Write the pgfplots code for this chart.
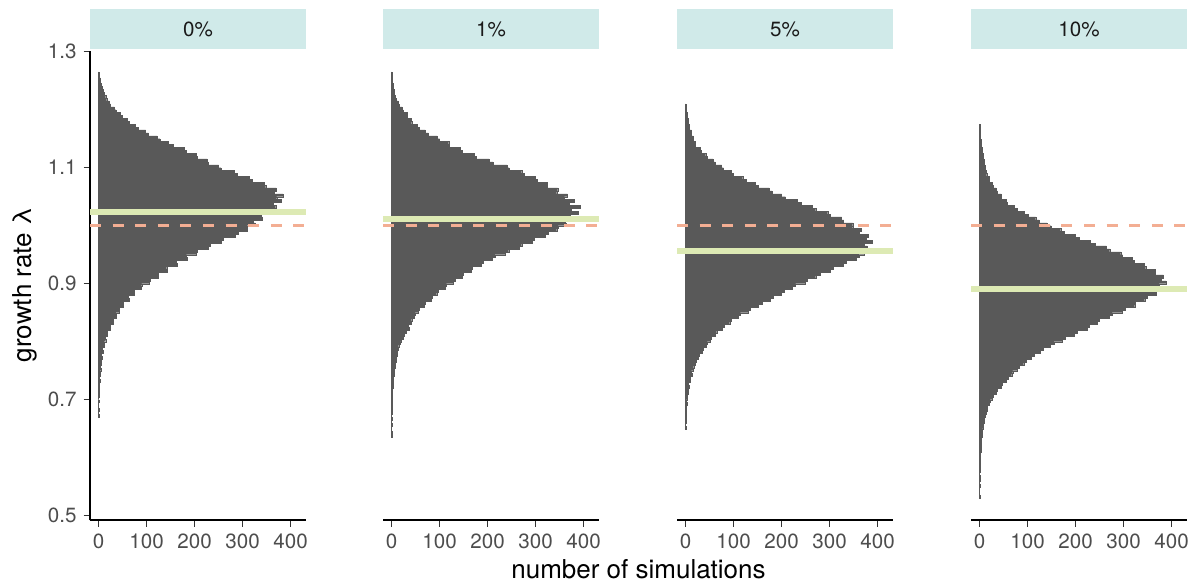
\documentclass[border=0pt]{standalone}
\usepackage{fontspec}
\setmainfont{TeX Gyre Heros}
\usepackage{pgfplots}
\usepackage{pgfplotstable}
\pgfplotsset{compat=1.18}

\definecolor{barcol}{HTML}{595959}
\definecolor{stripcol}{HTML}{D0EAE9}
\definecolor{meancol}{HTML}{DDEAB4}
\definecolor{refcol}{HTML}{F3AE93}
\definecolor{tickcol}{HTML}{4D4D4D}
\definecolor{tickmark}{HTML}{333333}
\definecolor{striptext}{HTML}{1A1A1A}

% panel 0%
\pgfplotstableread{
y c
0.670 1
0.675 0
0.680 1
0.685 0
0.690 0
0.695 1
0.700 0
0.705 1
0.710 1
0.715 1
0.720 2
0.725 1
0.730 3
0.735 2
0.740 4
0.745 3
0.750 5
0.755 4
0.760 6
0.765 5
0.770 7
0.775 6
0.780 9
0.785 8
0.790 12
0.795 11
0.800 15
0.805 14
0.810 19
0.815 18
0.820 25
0.825 24
0.830 31
0.835 30
0.840 37
0.845 36
0.850 44
0.855 43
0.860 52
0.865 51
0.870 63
0.875 61
0.880 75
0.885 74
0.890 89
0.895 90
0.900 106
0.905 107
0.910 124
0.915 125
0.920 143
0.925 142
0.930 163
0.935 161
0.940 184
0.945 183
0.950 203
0.955 205
0.960 228
0.965 232
0.970 255
0.975 260
0.980 284
0.985 290
0.990 310
0.995 309
1.000 326
1.005 322
1.010 341
1.015 338
1.020 356
1.025 352
1.030 369
1.035 364
1.040 380
1.045 371
1.050 384
1.055 366
1.060 370
1.065 348
1.070 345
1.075 320
1.080 314
1.085 289
1.090 282
1.095 255
1.100 250
1.105 229
1.110 226
1.115 206
1.120 203
1.125 183
1.130 178
1.135 155
1.140 146
1.145 128
1.150 122
1.155 104
1.160 98
1.165 82
1.170 77
1.175 64
1.180 60
1.185 49
1.190 46
1.195 36
1.200 33
1.205 25
1.210 22
1.215 17
1.220 15
1.225 11
1.230 10
1.235 7
1.240 6
1.245 4
1.250 4
1.255 2
1.260 1
1.265 0
}\tabA

% panel 1%
\pgfplotstableread{
y c
0.635 1
0.640 1
0.645 0
0.650 0
0.655 1
0.660 0
0.665 1
0.670 0
0.675 1
0.680 1
0.685 1
0.690 1
0.695 1
0.700 1
0.705 2
0.710 2
0.715 2
0.720 3
0.725 3
0.730 4
0.735 4
0.740 5
0.745 5
0.750 6
0.755 8
0.760 7
0.765 10
0.770 9
0.775 12
0.780 11
0.785 14
0.790 15
0.795 19
0.800 20
0.805 25
0.810 26
0.815 30
0.820 36
0.825 35
0.830 41
0.835 42
0.840 47
0.845 49
0.850 56
0.855 58
0.860 68
0.865 71
0.870 82
0.875 84
0.880 94
0.885 97
0.890 111
0.895 114
0.900 129
0.905 132
0.910 147
0.915 150
0.920 166
0.925 168
0.930 186
0.935 190
0.940 209
0.945 215
0.950 237
0.955 244
0.960 265
0.965 271
0.970 293
0.975 298
0.980 320
0.985 326
0.990 344
0.995 347
1.000 363
1.005 362
1.010 376
1.015 372
1.020 388
1.025 375
1.030 392
1.035 370
1.040 381
1.045 360
1.050 366
1.055 344
1.060 346
1.065 325
1.070 324
1.075 303
1.080 300
1.085 277
1.090 271
1.095 245
1.100 240
1.105 211
1.110 203
1.115 177
1.120 172
1.125 148
1.130 143
1.135 121
1.140 119
1.145 100
1.150 95
1.155 77
1.160 70
1.165 57
1.170 53
1.175 42
1.180 41
1.185 33
1.190 32
1.195 24
1.200 22
1.205 16
1.210 14
1.215 9
1.220 8
1.225 5
1.230 5
1.235 3
1.240 3
1.245 2
1.250 2
1.255 1
1.260 1
1.265 0
}\tabB

% panel 5%
\pgfplotstableread{
y c
0.650 1
0.655 0
0.660 1
0.665 1
0.670 1
0.675 2
0.680 1
0.685 2
0.690 3
0.695 2
0.700 4
0.705 3
0.710 5
0.715 5
0.720 7
0.725 6
0.730 9
0.735 10
0.740 13
0.745 12
0.750 16
0.755 17
0.760 21
0.765 22
0.770 27
0.775 28
0.780 34
0.785 37
0.790 44
0.795 45
0.800 52
0.805 54
0.810 61
0.815 65
0.820 77
0.825 81
0.830 92
0.835 96
0.840 110
0.845 114
0.850 131
0.855 134
0.860 152
0.865 160
0.870 177
0.875 182
0.880 199
0.885 205
0.890 222
0.895 229
0.900 249
0.905 253
0.910 271
0.915 281
0.920 301
0.925 307
0.930 328
0.935 334
0.940 356
0.945 361
0.950 372
0.955 364
0.960 378
0.965 372
0.970 388
0.975 376
0.980 381
0.985 362
0.990 365
0.995 348
1.000 348
1.005 329
1.010 325
1.015 302
1.020 296
1.025 271
1.030 264
1.035 240
1.040 232
1.045 208
1.050 200
1.055 180
1.060 174
1.065 152
1.070 146
1.075 126
1.080 119
1.085 100
1.090 95
1.095 79
1.100 75
1.105 61
1.110 57
1.115 45
1.120 42
1.125 33
1.130 30
1.135 21
1.140 20
1.145 16
1.150 16
1.155 12
1.160 12
1.165 8
1.170 8
1.175 5
1.180 5
1.185 3
1.190 3
1.195 1
1.200 2
1.205 1
1.210 0
}\tabC

% panel 10%
\pgfplotstableread{
y c
0.530 1
0.535 0
0.540 0
0.545 0
0.550 1
0.555 0
0.560 1
0.565 1
0.570 0
0.575 1
0.580 1
0.585 1
0.590 1
0.595 2
0.600 2
0.605 2
0.610 3
0.615 3
0.620 3
0.625 4
0.630 4
0.635 5
0.640 6
0.645 6
0.650 7
0.655 8
0.660 9
0.665 10
0.670 12
0.675 13
0.680 16
0.685 16
0.690 21
0.695 22
0.700 27
0.705 28
0.710 35
0.715 37
0.720 45
0.725 47
0.730 56
0.735 59
0.740 67
0.745 69
0.750 79
0.755 82
0.760 92
0.765 97
0.770 108
0.775 114
0.780 127
0.785 133
0.790 148
0.795 155
0.800 173
0.805 178
0.810 198
0.815 204
0.820 224
0.825 228
0.830 245
0.835 250
0.840 270
0.845 276
0.850 298
0.855 303
0.860 323
0.865 325
0.870 344
0.875 350
0.880 368
0.885 366
0.890 378
0.895 374
0.900 388
0.905 378
0.910 383
0.915 366
0.920 366
0.925 346
0.930 342
0.935 322
0.940 318
0.945 298
0.950 294
0.955 271
0.960 264
0.965 240
0.970 231
0.975 208
0.980 200
0.985 177
0.990 169
0.995 149
1.000 140
1.005 124
1.010 117
1.015 101
1.020 93
1.025 78
1.030 72
1.035 58
1.040 55
1.045 46
1.050 45
1.055 37
1.060 34
1.065 28
1.070 26
1.075 21
1.080 20
1.085 15
1.090 14
1.095 12
1.100 11
1.105 10
1.110 9
1.115 8
1.120 7
1.125 6
1.130 5
1.135 4
1.140 3
1.145 3
1.150 2
1.155 2
1.160 1
1.165 1
1.170 1
1.175 0
}\tabD

\pgfplotsset{
  facet/.style={
    scale only axis, width=108pt, height=234.9pt,
    anchor=north west,
    xmin=-17.7, xmax=432, ymin=0.492, ymax=1.302,
    xtick={0,100,200,300,400}, xticklabels={0,100,200,300,400},
    tick align=outside, major tick length=3.2pt,
    minor tick num=0,
    tick style={tickmark, line width=0.65pt},
    tick label style={font=\fontsize{10.3}{12}\selectfont, text=tickcol},
    axis line style={-, black, line width=1pt},
    every outer x axis line/.append style={-},
    every outer y axis line/.append style={-},
    axis x line*=bottom,
    clip=true,
  },
  noy/.style={axis y line=none, ytick=\empty, yticklabels={}},
  withy/.style={axis y line*=left,
    ytick={0.5,0.7,0.9,1.1,1.3}, yticklabels={0.5,0.7,0.9,1.1,1.3}},
  histo/.style={xbar interval, fill=barcol, draw=barcol, line width=0.15pt},
  refline/.style={refcol, line width=1.3pt, dash pattern=on 5.5pt off 5.8pt},
  meanline/.style={meancol, line width=3pt},
}

\begin{document}
\begin{tikzpicture}
\useasboundingbox (0pt,0pt) rectangle (599.5pt,-292.5pt);

% strips
\foreach \sx/\lab in {45/0\%, 191.5/1\%, 338.5/5\%, 485.5/10\%}{
  \fill[stripcol] (\sx pt,-4.5pt) rectangle ({\sx pt+108pt},-24.5pt);
  \node[text=striptext, font=\fontsize{10.3}{12}\selectfont] at ({\sx pt+54pt},-14.5pt) {\lab};
}

\begin{axis}[facet, withy, at={(45pt,-25.25pt)}]
  \addplot[histo] table[x=c, y=y] {\tabA};
  \addplot[refline] coordinates {(-17.7,1) (432,1)};
  \addplot[meanline] coordinates {(-17.7,1.023) (432,1.023)};
\end{axis}

\begin{axis}[facet, noy, at={(191.5pt,-25.25pt)}]
  \addplot[histo] table[x=c, y=y] {\tabB};
  \addplot[refline] coordinates {(-17.7,1) (432,1)};
  \addplot[meanline] coordinates {(-17.7,1.011) (432,1.011)};
\end{axis}

\begin{axis}[facet, noy, at={(338.5pt,-25.25pt)}]
  \addplot[histo] table[x=c, y=y] {\tabC};
  \addplot[refline] coordinates {(-17.7,1) (432,1)};
  \addplot[meanline] coordinates {(-17.7,0.957) (432,0.957)};
\end{axis}

\begin{axis}[facet, noy, at={(485.5pt,-25.25pt)}]
  \addplot[histo] table[x=c, y=y] {\tabD};
  \addplot[refline] coordinates {(-17.7,1) (432,1)};
  \addplot[meanline] coordinates {(-17.7,0.891) (432,0.891)};
\end{axis}

% axis titles
\node[font=\fontsize{13}{15}\selectfont, rotate=90] at (12.5pt,-142.5pt) {growth rate λ};
\node[font=\fontsize{13}{15}\selectfont, anchor=base] at (319.25pt,-289pt) {number of simulations};
\end{tikzpicture}
\end{document}
